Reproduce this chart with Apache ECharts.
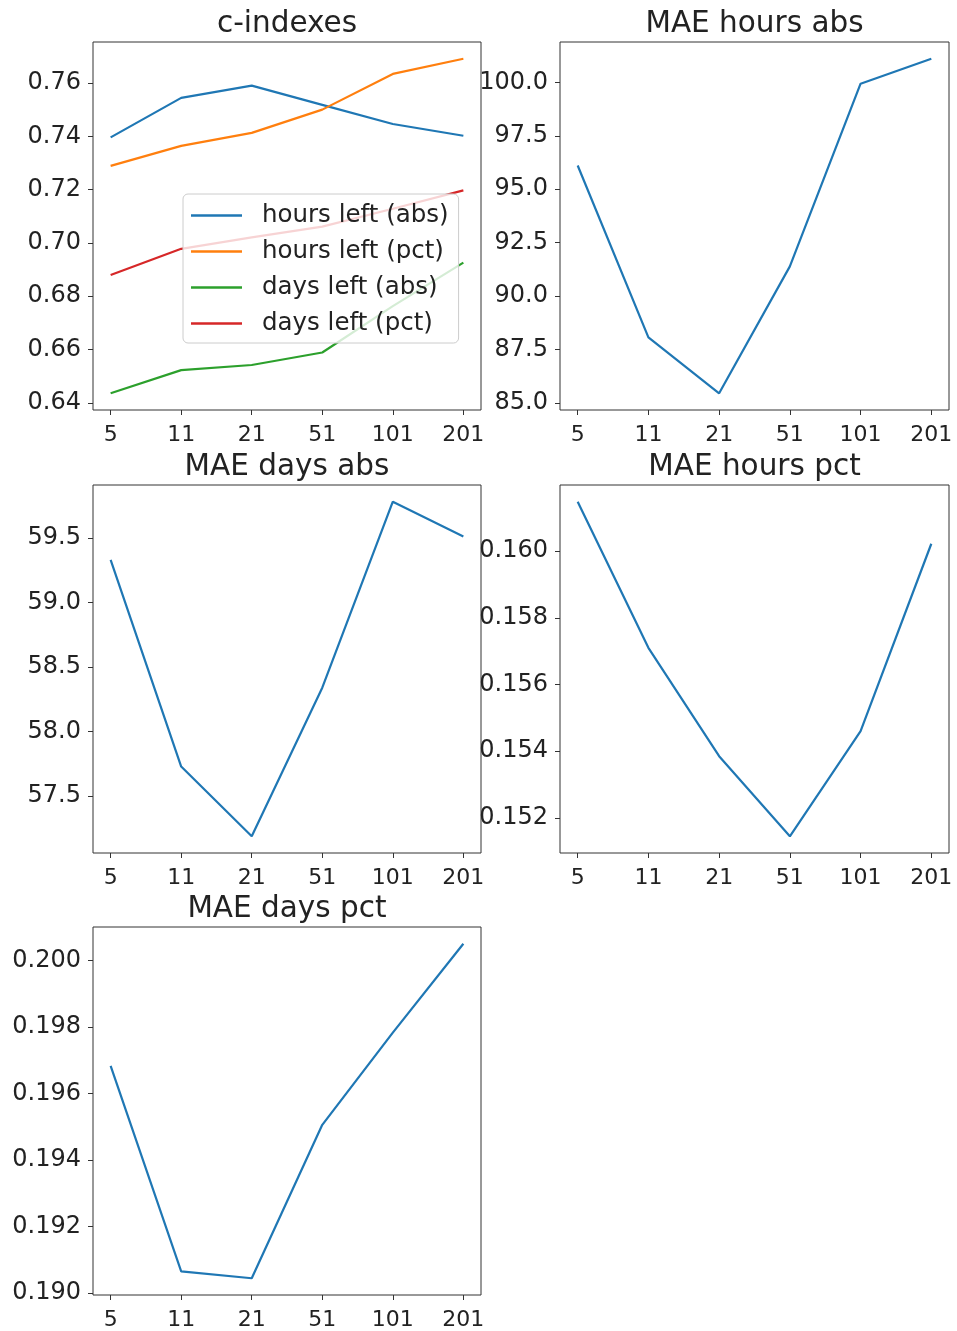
<!DOCTYPE html>
<html>
<head>
<meta charset="utf-8">
<script src="https://cdn.jsdelivr.net/npm/echarts@6/dist/echarts.min.js"></script>
<style>
  html, body { margin: 0; padding: 0; background: #fff; }
</style>
</head>
<body>
<div id="main" style="width:957px;height:1331px;"></div>
<script>
// window sizes on the x axis (plotted as evenly spaced categories)
const windowSizes = ['5', '11', '21', '51', '101', '201'];

// c-indexes
const cHoursAbs = [0.7396, 0.7544, 0.7590, 0.7518, 0.7446, 0.7402];
const cHoursPct = [0.7289, 0.7364, 0.7413, 0.7500, 0.7634, 0.7691];
const cDaysAbs = [0.6436, 0.6523, 0.6542, 0.6589, 0.6763, 0.6926];
const cDaysPct = [0.6880, 0.6978, 0.7021, 0.7061, 0.7128, 0.7197];

// MAE panels
const maeHoursAbs = [96.11, 88.07, 85.45, 91.39, 99.94, 101.11];
const maeDaysAbs = [59.33, 57.73, 57.19, 58.34, 59.78, 59.51];
const maeHoursPct = [0.16148, 0.15710, 0.15385, 0.15145, 0.15460, 0.16022];
const maeDaysPct = [0.19683, 0.19066, 0.19045, 0.19506, 0.19783, 0.20050];

// y tick labels
const cTicks = [0.64, 0.66, 0.68, 0.70, 0.72, 0.74, 0.76];
const hoursAbsTicks = [85.0, 87.5, 90.0, 92.5, 95.0, 97.5, 100.0];
const daysAbsTicks = [57.5, 58.0, 58.5, 59.0, 59.5];
const hoursPctTicks = [0.152, 0.154, 0.156, 0.158, 0.160];
const daysPctTicks = [0.190, 0.192, 0.194, 0.196, 0.198, 0.200];

const colors = ['#1f77b4', '#ff7f0e', '#2ca02c', '#d62728'];
const textColor = '#222';
const fontFamily = 'DejaVu Sans';

const chart = echarts.init(document.getElementById('main'));

// panel boxes
const grids = [
  { left: 93, top: 42, width: 388, height: 368 },
  { left: 560, top: 42, width: 389, height: 368 },
  { left: 93, top: 485, width: 388, height: 368 },
  { left: 560, top: 485, width: 389, height: 368 },
  { left: 93, top: 927, width: 388, height: 369 }
];

const titles = ['c-indexes', 'MAE hours abs', 'MAE days abs', 'MAE hours pct', 'MAE days pct'];

// matplotlib style 5% margins
function limits(arrays) {
  const all = [].concat(...arrays);
  const lo = Math.min(...all), hi = Math.max(...all);
  const pad = (hi - lo) * 0.05;
  return [lo - pad, hi + pad];
}

const panelData = [
  [cHoursAbs, cHoursPct, cDaysAbs, cDaysPct],
  [maeHoursAbs],
  [maeDaysAbs],
  [maeHoursPct],
  [maeDaysPct]
];
const panelTicks = [cTicks, hoursAbsTicks, daysAbsTicks, hoursPctTicks, daysPctTicks];
const tickDigits = [2, 1, 1, 3, 3];
const legendNames = ['hours left (abs)', 'hours left (pct)', 'days left (abs)', 'days left (pct)'];

const xAxes = grids.map((g, i) => ({
  type: 'value',
  gridIndex: i,
  min: -0.25,
  max: 5.25,
  axisLine: { show: false, onZero: false },
  splitLine: { show: false },
  axisTick: { show: true, length: 5, lineStyle: { color: '#333' }, customValues: [0, 1, 2, 3, 4, 5] },
  axisLabel: {
    customValues: [0, 1, 2, 3, 4, 5],
    formatter: v => windowSizes[Math.round(v)],
    color: textColor, fontSize: 22, fontFamily: fontFamily, margin: 14
  }
}));

const yAxes = grids.map((g, i) => {
  const lim = limits(panelData[i]);
  return {
    type: 'value',
    gridIndex: i,
    min: lim[0],
    max: lim[1],
    scale: true,
    axisLine: { show: false, onZero: false },
    splitLine: { show: false },
    axisTick: { show: true, length: 5, lineStyle: { color: '#333' }, customValues: panelTicks[i] },
    axisLabel: {
      customValues: panelTicks[i],
      formatter: v => v.toFixed(tickDigits[i]),
      color: textColor, fontSize: 24, fontFamily: fontFamily, margin: 12,
      padding: [4, 0, 0, 0]
    }
  };
});

const series = [];
panelData.forEach((arrs, i) => {
  arrs.forEach((arr, j) => {
    series.push({
      type: 'line',
      name: i === 0 ? legendNames[j] : titles[i],
      xAxisIndex: i,
      yAxisIndex: i,
      data: arr.map((v, k) => [k, v]),
      symbol: 'none',
      lineStyle: { width: 2.2, color: colors[j] },
      itemStyle: { color: colors[j] }
    });
  });
});

const option = {
  animation: false,
  backgroundColor: '#fff',
  title: grids.map((g, i) => ({
    text: titles[i],
    left: g.left + g.width / 2,
    top: g.top - 33,
    padding: 0,
    textAlign: 'center',
    textStyle: { color: textColor, fontSize: 29.5, fontWeight: 'normal', fontFamily: fontFamily }
  })),
  grid: grids.map(g => Object.assign({ show: true, borderColor: '#333', borderWidth: 1, backgroundColor: 'transparent' }, g)),
  legend: {
    data: legendNames,
    orient: 'vertical',
    left: 183,
    top: 194,
    padding: [9, 10, 7, 8],
    itemGap: 11,
    itemWidth: 51,
    itemHeight: 2.5,
    icon: 'rect',
    backgroundColor: 'rgba(255,255,255,0.8)',
    borderColor: '#cccccc',
    borderWidth: 1,
    borderRadius: 5,
    textStyle: { color: textColor, fontSize: 24.5, fontFamily: fontFamily, lineHeight: 24, padding: [0, 0, 0, 15] }
  },
  xAxis: xAxes,
  yAxis: yAxes,
  series: series
};

chart.setOption(option);
</script>
</body>
</html>
